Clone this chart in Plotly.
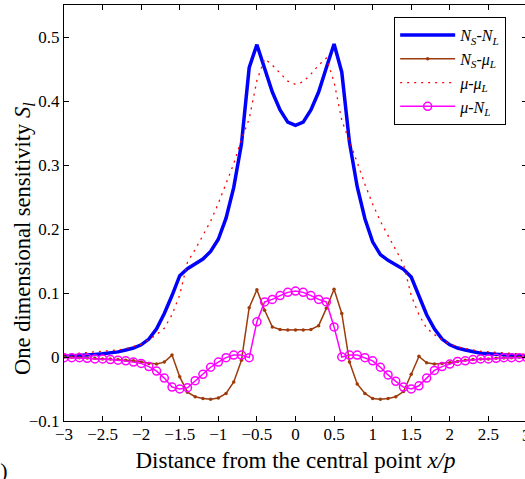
import plotly.graph_objects as go

# sampling grid (x/p)
x = [-3.0, -2.9, -2.8, -2.7, -2.6, -2.5, -2.4, -2.3, -2.2, -2.1,
     -2.0, -1.9, -1.8, -1.7, -1.6, -1.5, -1.4, -1.3, -1.2, -1.1,
     -1.0, -0.9, -0.8, -0.7, -0.6, -0.5, -0.4, -0.3, -0.2, -0.1,
     0.0, 0.1, 0.2, 0.3, 0.4, 0.5, 0.6, 0.7, 0.8, 0.9,
     1.0, 1.1, 1.2, 1.3, 1.4, 1.5, 1.6, 1.7, 1.8, 1.9,
     2.0, 2.1, 2.2, 2.3, 2.4, 2.5, 2.6, 2.7, 2.8, 2.9, 3.0]

ns_nl = [0.001, 0.0015, 0.002, 0.003, 0.004, 0.005, 0.006, 0.008, 0.011, 0.014,
         0.019, 0.028, 0.044, 0.068, 0.096, 0.127, 0.138, 0.146, 0.153, 0.165,
         0.184, 0.217, 0.265, 0.333, 0.452, 0.488, 0.452, 0.414, 0.386, 0.367,
         0.362, 0.367, 0.386, 0.414, 0.452, 0.489, 0.445, 0.335, 0.266, 0.216,
         0.180, 0.160, 0.151, 0.144, 0.137, 0.125, 0.094, 0.066, 0.044, 0.028,
         0.019, 0.014, 0.011, 0.008, 0.006, 0.005, 0.004, 0.003, 0.002, 0.0015, 0.001]

ns_mul = [0.0, -0.0005, -0.001, -0.0015, -0.002, -0.003, -0.003, -0.004, -0.005, -0.006,
          -0.008, -0.010, -0.011, -0.008, 0.003, -0.031, -0.055, -0.062, -0.065, -0.066,
          -0.064, -0.057, -0.039, -0.005, 0.077, 0.105, 0.073, 0.047, 0.043, 0.042,
          0.042, 0.042, 0.043, 0.049, 0.076, 0.106, 0.068, -0.008, -0.042, -0.057,
          -0.065, -0.066, -0.065, -0.062, -0.054, -0.027, 0.001, -0.009, -0.011, -0.010,
          -0.009, -0.007, -0.005, -0.004, -0.003, -0.003, -0.002, -0.0015, -0.001, -0.0005, 0.0]

mu_mul = [0.004, 0.005, 0.005, 0.006, 0.007, 0.008, 0.009, 0.011, 0.013, 0.016,
          0.020, 0.027, 0.035, 0.045, 0.066, 0.097, 0.148, 0.168, 0.190, 0.212,
          0.240, 0.270, 0.302, 0.340, 0.372, 0.432, 0.466, 0.456, 0.444, 0.431,
          0.426, 0.430, 0.442, 0.456, 0.467, 0.430, 0.370, 0.338, 0.304, 0.270,
          0.239, 0.212, 0.190, 0.168, 0.145, 0.096, 0.066, 0.045, 0.035, 0.027,
          0.020, 0.016, 0.013, 0.011, 0.009, 0.008, 0.007, 0.006, 0.005, 0.005, 0.004]

mu_nl = [-0.001, -0.001, -0.001, -0.002, -0.003, -0.003, -0.004, -0.005, -0.006, -0.008,
         -0.010, -0.015, -0.022, -0.033, -0.047, -0.050, -0.048, -0.037, -0.027, -0.016,
         -0.008, -0.001, 0.003, 0.003, -0.001, 0.055, 0.086, 0.090, 0.096, 0.101,
         0.103, 0.101, 0.096, 0.090, 0.086, 0.047, 0.000, 0.003, 0.003, -0.001,
         -0.006, -0.016, -0.028, -0.038, -0.047, -0.050, -0.045, -0.033, -0.021, -0.015,
         -0.011, -0.007, -0.006, -0.004, -0.003, -0.003, -0.002, -0.001, -0.001, -0.001, -0.001]

names = ["<i>N<sub>S</sub></i>-<i>N<sub>L</sub></i>",
         "<i>N<sub>S</sub></i>-<i>μ<sub>L</sub></i>",
         "<i>μ</i>-<i>μ<sub>L</sub></i>",
         "<i>μ</i>-<i>N<sub>L</sub></i>"]

FONT = "Liberation Serif"
brown = "#9E3B0C"

fig = go.Figure()
fig.add_trace(go.Scatter(x=x, y=ns_nl, name=names[0], mode="lines",
                         line=dict(color="#0000FF", width=3.5)))
fig.add_trace(go.Scatter(x=x, y=ns_mul, name=names[1], mode="lines+markers",
                         line=dict(color=brown, width=1.5),
                         marker=dict(symbol="circle", size=3.5, color=brown)))
fig.add_trace(go.Scatter(x=x, y=mu_mul, name=names[2], mode="lines",
                         line=dict(color="#FF0000", width=1.3, dash="2px,5px")))
fig.add_trace(go.Scatter(x=x, y=mu_nl, name=names[3], mode="lines+markers",
                         line=dict(color="#FF00FF", width=1.5),
                         marker=dict(symbol="circle-open", size=8, color="#FF00FF",
                                     line=dict(width=1.5, color="#FF00FF"))))

axis_common = dict(showline=True, linecolor="black", linewidth=1, mirror="ticks",
                   ticks="inside", ticklen=5, tickcolor="black", showgrid=False,
                   zeroline=False, automargin=False,
                   tickfont=dict(family=FONT, size=17, color="black"))

fig.update_layout(
    template="none",
    width=528, height=479,
    margin=dict(l=64, r=1, t=5, b=58),
    paper_bgcolor="white", plot_bgcolor="white",
    font=dict(family=FONT, color="black"),
    xaxis=dict(range=[-3, 3.0005], dtick=0.5, tick0=-3, ticklabelstandoff=-2,
               title=dict(text="Distance from the central point <i>x/p</i>",
                          font=dict(family=FONT, size=23), standoff=8),
               **axis_common),
    yaxis=dict(range=[-0.1, 0.55], dtick=0.1, tick0=0, **axis_common),
    legend=dict(x=0.955, y=0.971, xanchor="right", yanchor="top",
                bgcolor="white", bordercolor="black", borderwidth=1,
                font=dict(family=FONT, size=16, color="black"),
                itemwidth=55, tracegroupgap=0),
    showlegend=True,
    annotations=[
        dict(text="One dimensional sensitivity <i>S<sub>l</sub></i>",
             xref="paper", yref="paper", x=-0.0864, y=0.44,
             xanchor="center", yanchor="middle", textangle=-90,
             showarrow=False, font=dict(family=FONT, size=22.5, color="black")),
        dict(text="(b)", xref="paper", yref="paper",
             x=-0.1166, y=-0.118, xanchor="right", yanchor="middle",
             showarrow=False, font=dict(family=FONT, size=22, color="black")),
        dict(text="3", xref="x", yref="paper",
             x=3, y=-0.008, xanchor="center", yanchor="top",
             showarrow=False, font=dict(family=FONT, size=17, color="black")),
    ],
)

fig.write_html("out.html",
               post_script="document.body.style.margin='0';document.body.style.overflow='hidden';document.documentElement.style.overflow='hidden';")
